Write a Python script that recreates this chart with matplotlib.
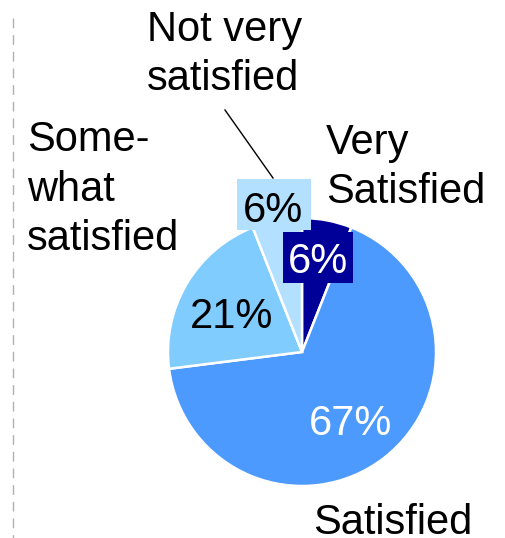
import matplotlib.pyplot as plt
from matplotlib.patches import Rectangle

plt.rcParams['font.family'] = ['Liberation Sans', 'DejaVu Sans']

# satisfaction shares, clockwise from 12 o'clock
categories = ['Very Satisfied', 'Satisfied', 'Somewhat satisfied', 'Not very satisfied']
shares = [6, 67, 21, 6]
colors = ['#000099', '#4d9aff', '#80ccff', '#b3e0ff']

W, H = 506, 538
fig = plt.figure(figsize=(W / 100, H / 100), dpi=100)
ax = fig.add_axes([0, 0, 1, 1])

ax.pie(shares, colors=colors, startangle=90, counterclock=False,
       center=(302, H - 352), radius=134,
       wedgeprops=dict(edgecolor='white', linewidth=1.8))
ax.set_xlim(0, W)
ax.set_ylim(0, H)
ax.axis('off')

fs = 30

# label backgrounds for the two small slices
ax.add_patch(Rectangle((237, H - 230), 74, 51, fc=colors[3], ec='none', zorder=3))
ax.add_patch(Rectangle((283, H - 283), 70, 51, fc=colors[0], ec='none', zorder=3))

# percentage labels
ax.text(273, H - 222, f'{shares[3]}%', fontsize=fs, ha='center', va='baseline', color='black', zorder=4)
ax.text(318, H - 273, f'{shares[0]}%', fontsize=fs, ha='center', va='baseline', color='white', zorder=4)
ax.text(232, H - 328, f'{shares[2]}%', fontsize=fs, ha='center', va='baseline', color='black')
ax.text(351, H - 435, f'{shares[1]}%', fontsize=fs, ha='center', va='baseline', color='white')

# category labels (baseline = last line)
ax.text(147, H - 90, 'Not very\nsatisfied', fontsize=fs, ha='left', va='baseline', linespacing=1.3)
ax.text(326, H - 203, 'Very\nSatisfied', fontsize=fs, ha='left', va='baseline', linespacing=1.3)
ax.text(27, H - 250, 'Some-\nwhat\nsatisfied', fontsize=fs, ha='left', va='baseline', linespacing=1.3)
ax.text(313, H - 534, 'Satisfied', fontsize=fs, ha='left', va='baseline')

# leader line for the small slice
ax.plot([225, 273], [H - 110, H - 178], color='black', lw=1)

# dashed separator on the left
ax.plot([13, 13], [H - 18, 0], color='#b0b0b0', lw=1, dashes=(7, 5))

fig.savefig('out.png', dpi=100)
